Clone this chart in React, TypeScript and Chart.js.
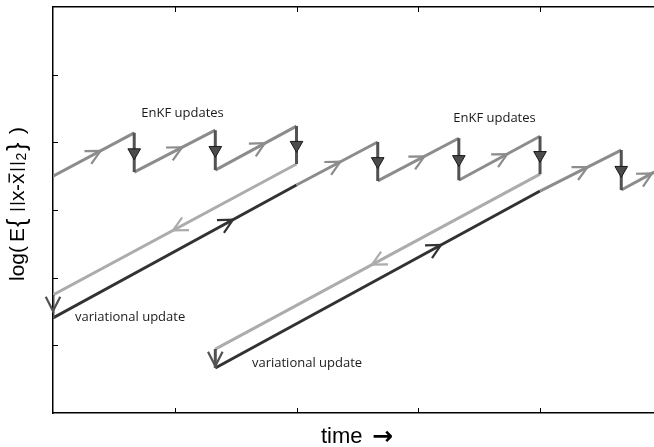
import React, { useEffect, useRef } from "react";
import { Chart, registerables } from "chart.js";

Chart.register(...registerables);

// ---- axes ----
const X_MIN = 0;
const X_MAX = 4.936;
const Y_MIN = 0;
const Y_MAX = 6;
const xTickValues = [1, 2, 3, 4];
const yTickValues = [1, 2, 3, 4, 5];
const xAxisTitleText = "time";
const xAxisTitleArrow = "\u2192";

// ---- forecast segments (x0, y0, x1, y1) ----
const forecastSegments: number[][] = [
  [0, 3.5, 0.667, 4.14],
  [0.667, 3.56, 1.333, 4.18],
  [1.333, 3.59, 2, 4.24],
  [2, 3.37, 2.667, 4.005],
  [2.667, 3.43, 3.333, 4.06],
  [3.333, 3.44, 4, 4.09],
  [4, 3.28, 4.667, 3.886],
  [4.667, 3.295, 5, 3.62],
];

// ---- EnKF analysis drops (x, yTop, yBottom) ----
const enkfDrops: number[][] = [
  [0.667, 4.14, 3.56],
  [1.333, 4.18, 3.59],
  [2, 4.24, 3.68],
  [2.667, 4.005, 3.43],
  [3.333, 4.06, 3.44],
  [4, 4.09, 3.53],
  [4.667, 3.886, 3.295],
];
const enkfMarkers: number[][] = [
  [0.667, 3.85],
  [1.333, 3.885],
  [2, 3.96],
  [2.667, 3.72],
  [3.333, 3.75],
  [4, 3.81],
  [4.667, 3.59],
];

// ---- backward (adjoint) sweeps ----
const backwardSegments: number[][] = [
  [2, 3.68, 0, 1.744],
  [4, 3.53, 1.333, 0.945],
];
// ---- variational drops (x, yTop, yBottom) ----
const variationalDrops: number[][] = [
  [0, 1.744, 1.404],
  [1.333, 0.945, 0.665],
];
// ---- variational analysis trajectories ----
const analysisSegments: number[][] = [
  [0, 1.404, 2, 3.37],
  [1.333, 0.665, 4, 3.28],
];

// ---- open arrow heads (tipX, tipY, fromX, fromY) ----
const forecastArrows: number[][] = [
  [0.39, 3.874, 0, 3.5],
  [1.06, 3.925, 0.667, 3.56],
  [1.74, 3.987, 1.333, 3.59],
  [2.36, 3.713, 2, 3.37],
  [3.05, 3.792, 2.667, 3.43],
  [3.73, 3.827, 3.333, 3.44],
  [4.39, 3.634, 4, 3.28],
  [4.92, 3.542, 4.667, 3.295],
];
const backwardArrows: number[][] = [
  [0.986, 2.698, 2, 3.68],
  [2.62, 2.192, 4, 3.53],
];
const analysisArrows: number[][] = [
  [1.478, 2.857, 0, 1.404],
  [3.187, 2.483, 1.333, 0.665],
];
const variationalArrows: number[][] = [
  [0, 1.507, 0, 1.744],
  [1.333, 0.695, 1.333, 0.945],
];

// ---- annotations (text, x, y) ----
const enkfLabels: [string, number, number][] = [
  ["EnKF updates", 1.064, 4.374],
  ["EnKF updates", 3.626, 4.307],
];
const variationalLabels: [string, number, number][] = [
  ["variational update", 0.181, 1.36],
  ["variational update", 1.634, 0.68],
];

const C_FORECAST = "rgb(140,140,140)";
const C_BACKWARD = "rgb(172,172,172)";
const C_ANALYSIS = "rgb(50,50,50)";
const C_DROP = "rgb(82,82,82)";

function segData(segs: number[][]) {
  const out: { x: number; y: number | null }[] = [];
  segs.forEach((s) => {
    out.push({ x: s[0], y: s[1] });
    out.push({ x: s[2], y: s[3] });
    out.push({ x: s[2], y: null });
  });
  return out;
}
function dropData(drops: number[][]) {
  const out: { x: number; y: number | null }[] = [];
  drops.forEach((d) => {
    out.push({ x: d[0], y: d[1] });
    out.push({ x: d[0], y: d[2] });
    out.push({ x: d[0], y: null });
  });
  return out;
}

function rotText(ctx: any, text: string, font: string, bx: number, sy: number) {
  ctx.save();
  ctx.font = font;
  ctx.translate(bx, sy);
  ctx.rotate(-Math.PI / 2);
  ctx.textAlign = "left";
  ctx.textBaseline = "alphabetic";
  ctx.fillText(text, 0, 0);
  ctx.restore();
}

const schematicPlugin = {
  id: "schematic",
  afterDatasetsDraw(chart: any) {
    const { ctx, scales, chartArea } = chart;
    const xs = scales.x;
    const ys = scales.y;
    ctx.save();
    ctx.beginPath();
    ctx.rect(0, chartArea.top, chartArea.right, chartArea.bottom - chartArea.top);
    ctx.clip();
    const drawArrows = (arr: number[][], color: string) => {
      ctx.strokeStyle = color;
      ctx.lineWidth = 2.2;
      ctx.lineCap = "butt";
      ctx.lineJoin = "miter";
      arr.forEach((a) => {
        const px = xs.getPixelForValue(a[0]);
        const py = ys.getPixelForValue(a[1]);
        const fx = xs.getPixelForValue(a[2]);
        const fy = ys.getPixelForValue(a[3]);
        const ang = Math.atan2(fy - py, fx - px);
        const L = 16;
        const h = (27 * Math.PI) / 180;
        ctx.beginPath();
        ctx.moveTo(px + L * Math.cos(ang + h), py + L * Math.sin(ang + h));
        ctx.lineTo(px, py);
        ctx.lineTo(px + L * Math.cos(ang - h), py + L * Math.sin(ang - h));
        ctx.stroke();
      });
    };
    drawArrows(forecastArrows, C_FORECAST);
    drawArrows(backwardArrows, C_BACKWARD);
    drawArrows(analysisArrows, C_ANALYSIS);
    drawArrows(variationalArrows, C_DROP);
    ctx.restore();

    ctx.save();
    ctx.fillStyle = "#1a1a1a";
    ctx.font = "13px 'Open Sans'";
    ctx.textBaseline = "alphabetic";
    ctx.textAlign = "center";
    enkfLabels.forEach((l) => {
      ctx.fillText(l[0], xs.getPixelForValue(l[1]), ys.getPixelForValue(l[2]));
    });
    ctx.textAlign = "left";
    variationalLabels.forEach((l) => {
      ctx.fillText(l[0], xs.getPixelForValue(l[1]), ys.getPixelForValue(l[2]));
    });
    ctx.restore();
  },
  afterDraw(chart: any) {
    const { ctx, scales, chartArea } = chart;
    const xs = scales.x;
    const ys = scales.y;
    ctx.save();
    ctx.strokeStyle = "#000";
    ctx.lineWidth = 1;
    const tl = 5;
    xTickValues.forEach((v) => {
      const p = Math.round(xs.getPixelForValue(v)) + 0.5;
      ctx.beginPath();
      ctx.moveTo(p, chartArea.bottom);
      ctx.lineTo(p, chartArea.bottom - tl);
      ctx.moveTo(p, chartArea.top);
      ctx.lineTo(p, chartArea.top + tl);
      ctx.stroke();
    });
    yTickValues.forEach((v) => {
      const p = Math.round(ys.getPixelForValue(v)) + 0.5;
      ctx.beginPath();
      ctx.moveTo(chartArea.left, p);
      ctx.lineTo(chartArea.left + tl, p);
      ctx.stroke();
    });

    // x title
    ctx.fillStyle = "#000";
    ctx.textBaseline = "alphabetic";
    ctx.textAlign = "left";
    ctx.font = "22px 'Liberation Sans'";
    ctx.fillText(xAxisTitleText, 321, 443);
    ctx.font = "bold 25px 'DejaVu Sans'";
    ctx.fillText(xAxisTitleArrow, 372, 444);

    // y title, rotated, drawn piece by piece
    const F = "21px 'Liberation Sans'";
    const FB = "25px 'Liberation Sans'";
    const bx = 24;
    rotText(ctx, "log(", F, bx, 281);
    rotText(ctx, "E", F, bx, 242);
    rotText(ctx, "{", FB, bx + 1, 227);
    rotText(ctx, "x", F, bx, 201);
    rotText(ctx, "-", F, bx, 191);
    rotText(ctx, "x", F, bx, 184);
    rotText(ctx, "2", "14px 'Liberation Sans'", bx + 2, 160.5);
    rotText(ctx, "}", FB, bx + 1, 151);
    rotText(ctx, ")", F, bx, 134);
    // norm bars and overline
    [209.5, 203.5, 169.5, 163.5].forEach((yy) => {
      ctx.fillRect(10, yy - 0.7, 15, 1.4);
    });
    ctx.fillRect(8.5, 173.5, 1.4, 9);
    ctx.restore();
  },
};

export default function App() {
  const ref = useRef<HTMLCanvasElement | null>(null);
  useEffect(() => {
    if (!ref.current) return;
    const lineDs = (label: string, data: any[], color: string) => ({
      type: "scatter" as const,
      label,
      data,
      showLine: true,
      borderColor: color,
      backgroundColor: color,
      borderWidth: 3,
      pointRadius: 0,
      pointHoverRadius: 0,
      spanGaps: false,
      borderCapStyle: "butt",
    });
    const chart = new Chart(ref.current, {
      type: "scatter",
      data: {
        datasets: [
          {
            type: "scatter",
            label: "EnKF markers",
            data: enkfMarkers.map((m) => ({ x: m[0], y: m[1] })),
            showLine: false,
            pointStyle: "triangle",
            rotation: 180,
            pointRadius: 7.3,
            pointHoverRadius: 7.3,
            backgroundColor: "rgb(75,75,75)",
            borderColor: "rgb(25,25,25)",
            borderWidth: 1,
          } as any,
          lineDs("EnKF drops", dropData(enkfDrops), C_DROP),
          lineDs("variational drops", dropData(variationalDrops), C_DROP),
          lineDs("forecast", segData(forecastSegments), C_FORECAST),
          lineDs("analysis", segData(analysisSegments), C_ANALYSIS),
          lineDs("backward", segData(backwardSegments), C_BACKWARD),
        ] as any,
      },
      options: {
        animation: false,
        responsive: false,
        maintainAspectRatio: false,
        layout: { autoPadding: false, padding: { left: 53, top: 7, right: 0, bottom: 34 } },
        plugins: { legend: { display: false }, tooltip: { enabled: false } },
        events: [],
        scales: {
          x: {
            type: "linear",
            position: "bottom",
            min: X_MIN,
            max: X_MAX,
            ticks: { display: false },
            grid: { display: false, drawTicks: false },
            border: { display: true, color: "#000", width: 1.5 },
          },
          x2: {
            type: "linear",
            position: "top",
            min: X_MIN,
            max: X_MAX,
            ticks: { display: false },
            grid: { display: false, drawTicks: false },
            border: { display: true, color: "#000", width: 1.5 },
          },
          y: {
            type: "linear",
            position: "left",
            min: Y_MIN,
            max: Y_MAX,
            ticks: { display: false },
            grid: { display: false, drawTicks: false },
            border: { display: true, color: "#000", width: 1.5 },
          },
        },
      } as any,
      plugins: [schematicPlugin],
    });
    return () => chart.destroy();
  }, []);
  return (
    <div style={{ position: "fixed", left: 0, top: 0, width: 654, height: 447, background: "#fff" }}>
      <canvas ref={ref} width={654} height={447} style={{ display: "block", width: 654, height: 447 }} />
    </div>
  );
}
